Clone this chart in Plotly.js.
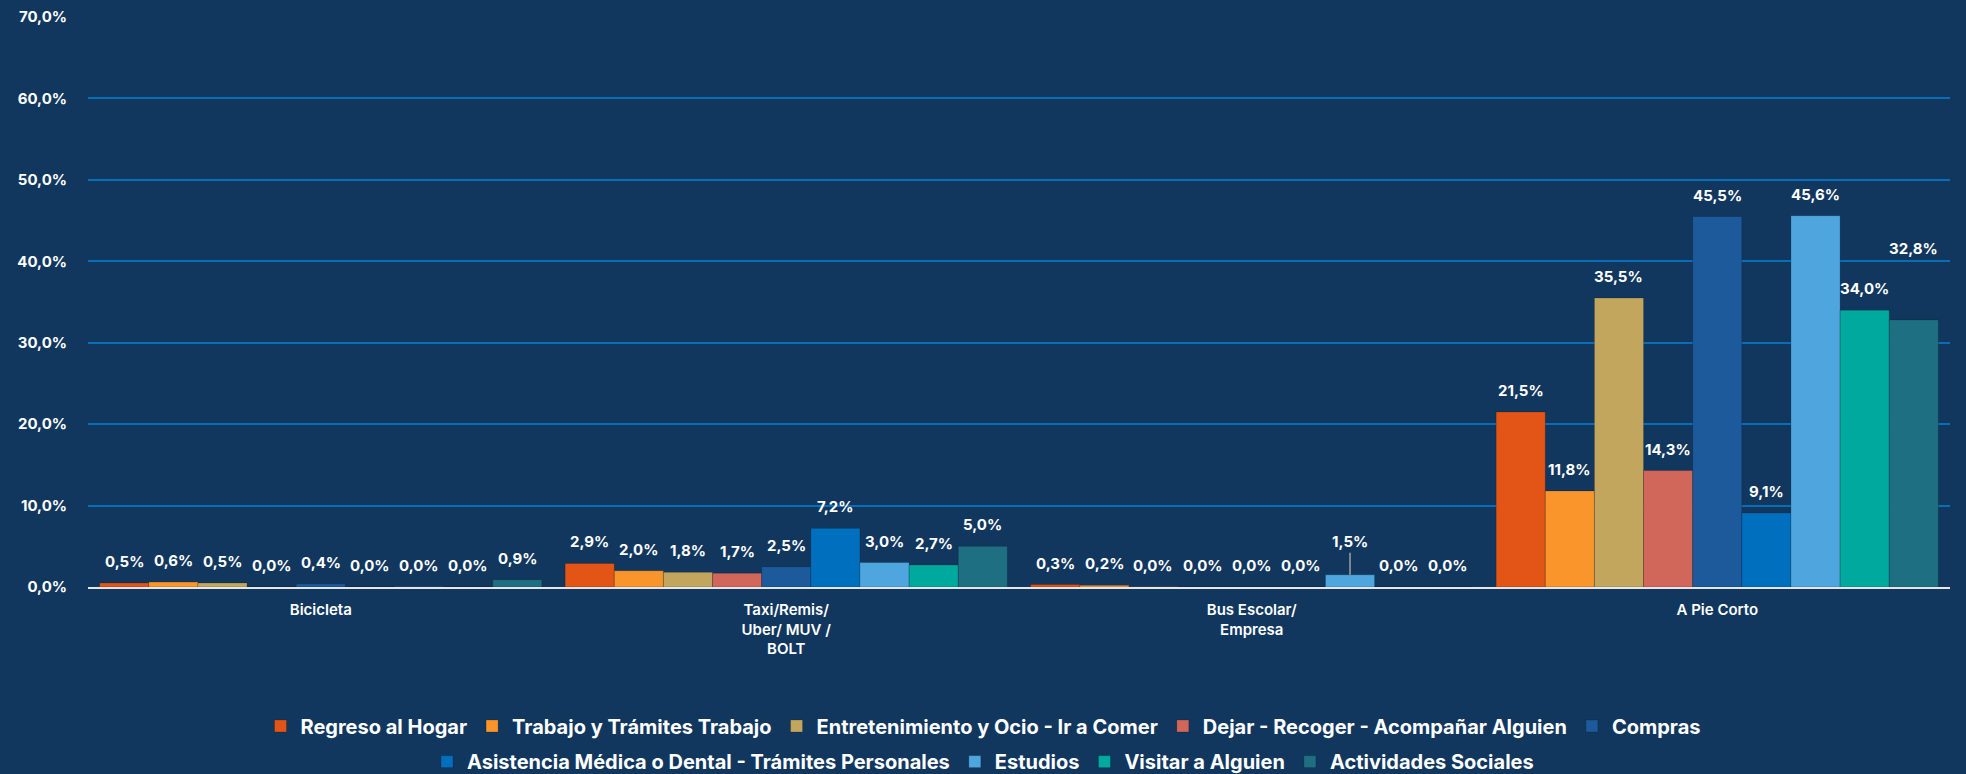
<!DOCTYPE html>
<html>
<head>
<meta charset="utf-8">
<script src="https://cdn.plot.ly/plotly-3.0.1.min.js"></script>
<style>
  html, body { margin: 0; padding: 0; background: #12375F; }
  #chart { width: 1966px; height: 774px; }
</style>
</head>
<body>
<div id="chart"></div>
<script>
// ---- Data ----
const categories = ['Bicicleta', 'Taxi/Remis/<br>Uber/ MUV /<br>BOLT', 'Bus Escolar/<br>Empresa', 'A Pie Corto'];
const seriesNames = [
  'Regreso al Hogar',
  'Trabajo y Trámites Trabajo',
  'Entretenimiento y Ocio - Ir a Comer',
  'Dejar - Recoger - Acompañar Alguien',
  'Compras',
  'Asistencia Médica o Dental - Trámites Personales',
  'Estudios',
  'Visitar a Alguien',
  'Actividades Sociales'
];
const regreso         = [0.5, 2.9, 0.3, 21.5];
const trabajo         = [0.6, 2.0, 0.2, 11.8];
const entretenimiento = [0.5, 1.8, 0.04, 35.5];
const dejar           = [0.0, 1.7, 0.0, 14.3];
const compras         = [0.4, 2.5, 0.0, 45.5];
const asistencia      = [0.0, 7.2, 0.0, 9.1];
const estudios        = [0.04, 3.0, 1.5, 45.6];
const visitar         = [0.0, 2.7, 0.0, 34.0];
const actividades     = [0.9, 5.0, 0.0, 32.8];
const yTickVals = [0, 10, 20, 30, 40, 50, 60, 70];

// ---- Style ----
const seriesValues = [regreso, trabajo, entretenimiento, dejar, compras, asistencia, estudios, visitar, actividades];
const colors = ['#E35417', '#F9952B', '#C2A65D', '#D1665A', '#1C5A9C', '#0070BE', '#4FA6DE', '#00A99D', '#1F6F82'];
const BG = '#12375F';
const bargap = 0.05;
const nS = seriesNames.length;
const barW = (1 - bargap) / nS;

// label placement tweaks (series index, category index)
const labelTweaks = {
  '6-2': {leader: true},
  '8-3': {yshift: 50}
};

const fmt = v => v.toFixed(1).replace('.', ',') + '%';

const traces = seriesValues.map((vals, j) => ({
  type: 'bar',
  name: seriesNames[j],
  x: categories,
  y: vals,
  marker: {color: colors[j], line: {width: 1, color: 'rgba(0,0,0,0.18)'}},
  legend: j < 5 ? 'legend' : 'legend2',
  hoverinfo: 'skip'
}));

const annotations = [];
seriesValues.forEach((vals, j) => {
  vals.forEach((v, i) => {
    const xpos = i - (1 - bargap) / 2 + (j + 0.5) * barW;
    const tw = labelTweaks[j + '-' + i] || {};
    const a = {
      x: xpos, y: v, xref: 'x', yref: 'y',
      text: fmt(v),
      font: {family: 'Inter, Roboto, sans-serif', size: 15, color: '#FFFFFF', weight: 700},
      showarrow: false,
      yanchor: 'bottom',
      yshift: 10 + (tw.yshift || 0),
      xshift: tw.xshift || 0
    };
    if (tw.leader) {
      a.showarrow = true;
      a.arrowhead = 0;
      a.arrowwidth = 1.5;
      a.arrowcolor = '#A0A0A0';
      a.ax = 0; a.ay = -33;
      a.standoff = 0;
      a.yanchor = 'auto';
      a.yshift = 0;
    }
    annotations.push(a);
  });
});

const legendFont = {family: 'Inter, Roboto, sans-serif', size: 20, color: '#FFFFFF', weight: 700};

const layout = {
  width: 1966, height: 774,
  paper_bgcolor: BG, plot_bgcolor: BG,
  margin: {l: 88, r: 16, t: 17, b: 187},
  separators: ',.',
  barmode: 'group',
  bargap: bargap,
  bargroupgap: 0,
  showlegend: true,
  xaxis: {
    type: 'category',
    showgrid: false,
    showline: true, linecolor: '#E6E6E6', linewidth: 2,
    ticks: '',
    ticklabelstandoff: 8,
    tickfont: {family: 'Inter, Roboto, sans-serif', size: 15, color: '#FFFFFF', weight: 600},
    fixedrange: true
  },
  yaxis: {
    range: [0, 70],
    tickmode: 'array',
    tickvals: yTickVals,
    ticktext: yTickVals.map(fmt),
    showgrid: true, gridcolor: '#0A6DB8', gridwidth: 2,
    zeroline: false,
    showline: false,
    ticks: '',
    ticklabelstandoff: 20,
    tickfont: {family: 'Inter, Roboto, sans-serif', size: 15, color: '#FFFFFF', weight: 700},
    fixedrange: true
  },
  legend: {
    orientation: 'h', x: 0.5, xanchor: 'center', xref: 'container',
    y: 0.062, yanchor: 'middle', yref: 'container',
    font: legendFont, bgcolor: 'rgba(0,0,0,0)', traceorder: 'normal', itemclick: false
  },
  legend2: {
    orientation: 'h', x: 0.5, xanchor: 'center', xref: 'container',
    y: 0.016, yanchor: 'middle', yref: 'container',
    font: legendFont, bgcolor: 'rgba(0,0,0,0)', traceorder: 'normal', itemclick: false
  },
  annotations: annotations
};

Plotly.newPlot('chart', traces, layout, {displayModeBar: false, staticPlot: true});
</script>
</body>
</html>
